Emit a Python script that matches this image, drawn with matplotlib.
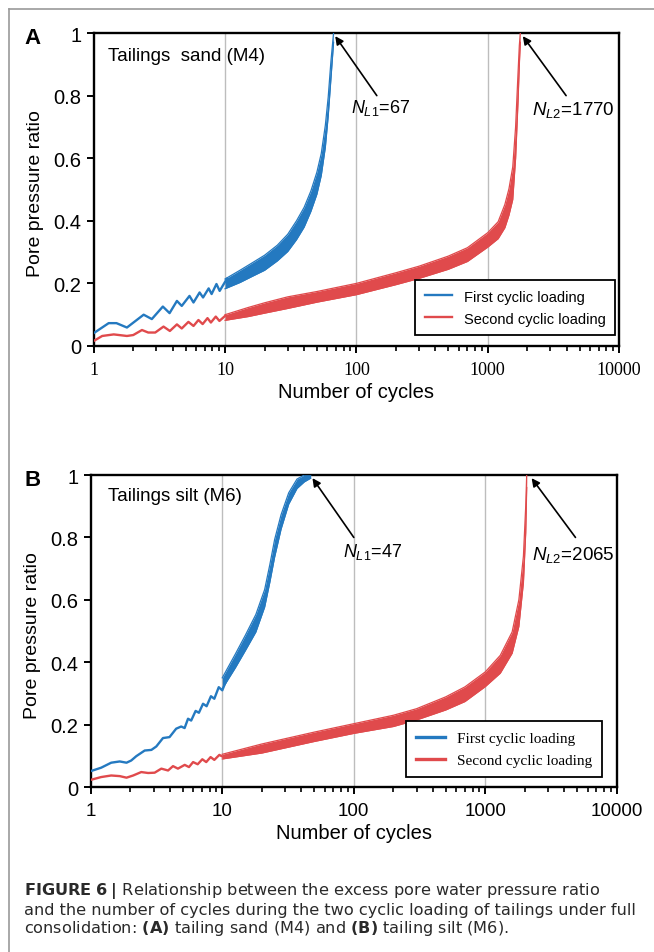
import numpy as np
import matplotlib
matplotlib.use("Agg")
from matplotlib import pyplot as plt
from matplotlib.lines import Line2D
from matplotlib.ticker import LogLocator, NullFormatter, FixedLocator

plt.rcParams["font.family"] = ["Liberation Sans", "DejaVu Sans"]
plt.rcParams["mathtext.fontset"] = "custom"
plt.rcParams["mathtext.rm"] = "Liberation Sans"
plt.rcParams["mathtext.it"] = "Liberation Sans:italic"
plt.rcParams["mathtext.bf"] = "Liberation Sans:bold"

BLUE = "#2479c0"
RED = "#e04a4c"

# ---- panel A : tailings sand (M4) ----
# early cycles, wiggly trace read point by point
a_first_trace_n = [1.0, 1.3, 1.49, 1.79, 2.4, 2.77, 3.36, 3.78, 4.3, 4.68, 5.36, 5.75,
                   6.4, 6.8, 7.5, 7.9, 8.6, 9.1, 10.3]
a_first_trace_r = [0.041, 0.073, 0.073, 0.059, 0.100, 0.086, 0.126, 0.105, 0.144, 0.128,
                   0.160, 0.139, 0.171, 0.155, 0.184, 0.166, 0.198, 0.176, 0.214]
a_second_trace_n = [1.0, 1.16, 1.42, 1.79, 2.0, 2.33, 2.6, 2.94, 3.4, 3.8, 4.3, 4.68, 5.26,
                    5.75, 6.27, 6.75, 7.35, 7.8, 8.5, 9.06, 10.0]
a_second_trace_r = [0.016, 0.032, 0.037, 0.032, 0.035, 0.051, 0.043, 0.043, 0.062, 0.048,
                    0.069, 0.056, 0.077, 0.064, 0.083, 0.070, 0.089, 0.075, 0.094, 0.080, 0.096]
# later cycles, oscillation envelope (trough / peak)
a_first_band_n = [10, 13, 16, 20, 25, 30, 35, 40, 45, 50, 54, 58, 61, 64, 67]
a_first_band_lo = [0.183, 0.203, 0.222, 0.242, 0.272, 0.302, 0.340, 0.380, 0.430, 0.485,
                   0.545, 0.635, 0.735, 0.855, 0.97]
a_first_band_hi = [0.214, 0.242, 0.265, 0.290, 0.322, 0.357, 0.400, 0.443, 0.495, 0.555,
                   0.615, 0.705, 0.795, 0.91, 1.0]
a_second_band_n = [10, 15, 20, 30, 50, 100, 200, 300, 500, 700, 1000, 1200, 1350, 1450,
                   1550, 1630, 1700, 1740, 1770]
a_second_band_lo = [0.082, 0.094, 0.105, 0.120, 0.140, 0.164, 0.196, 0.216, 0.245, 0.270,
                    0.316, 0.343, 0.378, 0.418, 0.468, 0.60, 0.78, 0.90, 0.97]
a_second_band_hi = [0.100, 0.123, 0.138, 0.157, 0.174, 0.200, 0.234, 0.255, 0.287, 0.314,
                    0.362, 0.397, 0.452, 0.502, 0.572, 0.70, 0.87, 0.96, 1.0]

# ---- panel B : tailings silt (M6) ----
b_first_trace_n = [1.0, 1.2, 1.43, 1.66, 1.87, 2.03, 2.22, 2.57, 2.89, 3.15, 3.54, 3.97,
                   4.46, 4.87, 5.17, 5.49, 5.8, 6.27, 6.64, 7.14, 7.6, 8.2, 8.7, 9.4, 10.0, 10.7]
b_first_trace_r = [0.051, 0.062, 0.078, 0.082, 0.078, 0.085, 0.099, 0.117, 0.119, 0.130,
                   0.157, 0.160, 0.187, 0.194, 0.189, 0.219, 0.213, 0.244, 0.238, 0.267,
                   0.259, 0.291, 0.283, 0.320, 0.310, 0.341]
b_second_trace_n = [1.0, 1.2, 1.43, 1.66, 1.87, 2.1, 2.42, 2.73, 3.06, 3.44, 3.87, 4.22,
                    4.6, 5.18, 5.58, 6.0, 6.5, 7.05, 7.55, 8.15, 8.7, 9.5, 10.0]
b_second_trace_r = [0.023, 0.032, 0.037, 0.035, 0.030, 0.037, 0.048, 0.045, 0.046, 0.059,
                    0.053, 0.067, 0.059, 0.071, 0.064, 0.080, 0.073, 0.089, 0.080, 0.096,
                    0.087, 0.103, 0.098]
b_first_band_n = [10, 12.6, 15, 18, 21, 23, 25, 28, 32, 37, 42, 47]
b_first_band_lo = [0.315, 0.383, 0.438, 0.497, 0.577, 0.657, 0.737, 0.827, 0.907, 0.957, 0.978, 0.99]
b_first_band_hi = [0.35, 0.427, 0.487, 0.553, 0.633, 0.713, 0.793, 0.873, 0.943, 0.987, 1.0, 1.0]
b_second_band_n = [10, 20, 50, 100, 200, 300, 500, 700, 1000, 1300, 1600, 1800, 1950,
                   2030, 2065]
b_second_band_lo = [0.09, 0.109, 0.146, 0.172, 0.194, 0.215, 0.247, 0.274, 0.322, 0.365,
                    0.429, 0.515, 0.656, 0.816, 0.96]
b_second_band_hi = [0.105, 0.138, 0.176, 0.203, 0.230, 0.251, 0.289, 0.321, 0.369, 0.422,
                    0.497, 0.60, 0.74, 0.90, 1.0]

y_ticks = [0, 0.2, 0.4, 0.6, 0.8, 1]
y_tick_labels = ["0", "0.2", "0.4", "0.6", "0.8", "1"]
x_ticks = [1, 10, 100, 1000, 10000]
x_tick_labels = ["1", "10", "100", "1000", "10000"]
legend_labels = ["First cyclic loading", "Second cyclic loading"]


def draw_curve(ax, trace_n, trace_r, band_n, band_lo, band_hi, color, label):
    ax.plot(trace_n, trace_r, color=color, lw=1.7, label=label, zorder=3)
    ax.fill_between(band_n, band_lo, band_hi, color=color, lw=0, zorder=3)
    ax.plot(band_n, band_lo, color=color, lw=0.9, zorder=3)
    ax.plot(band_n, band_hi, color=color, lw=0.9, zorder=3)


def style_axes(ax, xtick_family, xtick_size):
    ax.set_xscale("log")
    ax.set_xlim(1, 10000)
    ax.set_ylim(0, 1)
    ax.xaxis.set_major_locator(FixedLocator(x_ticks))
    ax.set_xticklabels(x_tick_labels, family=xtick_family, fontsize=xtick_size)
    ax.xaxis.set_minor_locator(LogLocator(base=10, subs=np.arange(2, 10)))
    ax.xaxis.set_minor_formatter(NullFormatter())
    ax.set_yticks(y_ticks)
    ax.set_yticklabels(y_tick_labels, fontsize=14.5)
    for x in [10, 100, 1000]:
        ax.axvline(x, color="#bdbdbd", lw=1.0, zorder=1)
    for s in ax.spines.values():
        s.set_linewidth(1.7)
    ax.tick_params(which="major", direction="out", length=5, width=1.4, pad=4)
    ax.tick_params(which="minor", direction="out", length=3.5, width=1.2)
    ax.tick_params(axis="x", which="major", pad=6)
    ax.set_ylabel("Pore pressure ratio", fontsize=14)
    ax.yaxis.set_label_coords(-0.095, 0.49)
    ax.set_xlabel("Number of cycles", fontsize=14.5)
    ax.xaxis.set_label_coords(0.5, -0.115)


fig = plt.figure(figsize=(6.54, 9.53), dpi=100)
arrow = dict(arrowstyle="-|>", color="black", lw=1.2, mutation_scale=12, shrinkA=0, shrinkB=0)

# ---------- panel A ----------
ax1 = fig.add_axes([0.1433, 0.6359, 0.8033, 0.3284])
draw_curve(ax1, a_first_trace_n, a_first_trace_r, a_first_band_n, a_first_band_lo,
           a_first_band_hi, BLUE, legend_labels[0])
draw_curve(ax1, a_second_trace_n, a_second_trace_r, a_second_band_n, a_second_band_lo,
           a_second_band_hi, RED, legend_labels[1])
style_axes(ax1, "Liberation Serif", 13)
ax1.text(0.027, 0.927, "Tailings  sand (M4)", transform=ax1.transAxes, fontsize=13.5,
         va="center", ha="left")
ax1.annotate("", xy=(69, 0.99), xytext=(143, 0.80), arrowprops=arrow)
ax1.text(153, 0.765, r"$\mathit{N}_{\mathit{L1}}$=67", fontsize=13, ha="center", va="center")
ax1.annotate("", xy=(1850, 0.99), xytext=(3950, 0.80), arrowprops=arrow)
ax1.text(4450, 0.758, r"$\mathit{N}_{\mathit{L2}}$=1770", fontsize=13.5, ha="center", va="center")
leg = ax1.legend(loc="lower right", bbox_to_anchor=(0.993, 0.035), fontsize=10.5,
                 fancybox=False, edgecolor="black", handlelength=1.9, borderpad=0.65,
                 labelspacing=0.55, framealpha=1, borderaxespad=0)
leg.get_frame().set_linewidth(1.3)
fig.text(0.038, 0.960, "A", fontsize=16, fontweight="bold", ha="left", va="center")

# ---------- panel B ----------
ax2 = fig.add_axes([0.1388, 0.1731, 0.8043, 0.3274])
draw_curve(ax2, b_first_trace_n, b_first_trace_r, b_first_band_n, b_first_band_lo,
           b_first_band_hi, BLUE, legend_labels[0])
draw_curve(ax2, b_second_trace_n, b_second_trace_r, b_second_band_n, b_second_band_lo,
           b_second_band_hi, RED, legend_labels[1])
style_axes(ax2, "Liberation Sans", 13.5)
ax2.text(0.032, 0.933, "Tailings silt (M6)", transform=ax2.transAxes, fontsize=13.5,
         va="center", ha="left")
ax2.annotate("", xy=(48.5, 0.99), xytext=(100, 0.80), arrowprops=arrow)
ax2.text(140, 0.755, r"$\mathit{N}_{\mathit{L1}}$=47", fontsize=13, ha="center", va="center")
ax2.annotate("", xy=(2250, 0.99), xytext=(4850, 0.80), arrowprops=arrow)
ax2.text(4700, 0.748, r"$\mathit{N}_{\mathit{L2}}$=2065", fontsize=13.5, ha="center", va="center")
leg2 = ax2.legend(loc="lower right", bbox_to_anchor=(0.972, 0.032),
                  prop={"family": "Liberation Serif", "size": 11},
                  fancybox=False, edgecolor="black", handlelength=1.9, borderpad=0.65,
                  labelspacing=0.55, framealpha=1, borderaxespad=0)
leg2.get_frame().set_linewidth(1.3)
for line in leg2.get_lines():
    line.set_linewidth(2.4)
fig.text(0.038, 0.496, "B", fontsize=16, fontweight="bold", ha="left", va="center")

# ---------- page border and caption ----------
fig.add_artist(Line2D([0.0138, 1.0], [0.9895, 0.9895], color="#9a9a9a", lw=1.2))
fig.add_artist(Line2D([0.0138, 0.0138], [0.0, 0.9895], color="#9a9a9a", lw=1.2))
plt.rcParams["mathtext.bf"] = "DejaVu Sans:bold"
cap_kw = dict(fontsize=11.6, ha="left", va="center", color="#2a2a2a", family="DejaVu Sans")
fig.text(0.036, 0.065, r"$\mathbf{FIGURE\ 6\ |}$ Relationship between the excess pore water pressure ratio",
         **cap_kw)
fig.text(0.036, 0.045, "and the number of cycles during the two cyclic loading of tailings under full",
         **cap_kw)
fig.text(0.036, 0.026, r"consolidation: $\mathbf{(A)}$ tailing sand (M4) and $\mathbf{(B)}$ tailing silt (M6).",
         **cap_kw)

fig.savefig("out.png", dpi=100)
